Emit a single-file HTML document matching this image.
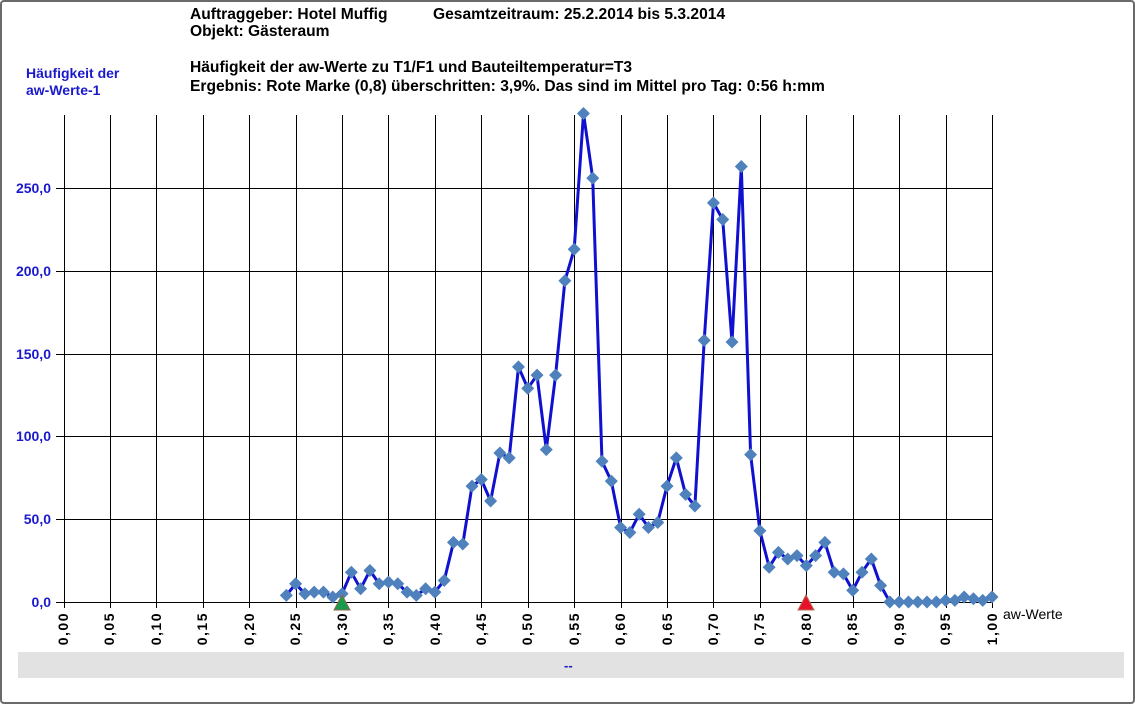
<!DOCTYPE html>
<html><head><meta charset="utf-8"><style>
body{margin:0;background:#fff;}
#f{position:absolute;left:0;top:0;width:1131px;height:700px;border:2px solid #6a6a6a;border-radius:4px;background:#fff;overflow:hidden;font-family:"Liberation Sans",Arial,sans-serif;}
.t{position:absolute;font-weight:bold;font-size:15.6px;color:#000;white-space:nowrap;}
.b{position:absolute;font-weight:bold;font-size:14px;color:#1a1acc;white-space:nowrap;}
</style></head><body>
<div id="f">
<div class="t" style="left:188px;top:4px">Auftraggeber: Hotel Muffig</div>
<div class="t" style="left:431px;top:4px">Gesamtzeitraum: 25.2.2014 bis 5.3.2014</div>
<div class="t" style="left:188px;top:21px">Objekt: Gästeraum</div>
<div class="t" style="left:188px;top:57px">Häufigkeit der aw-Werte zu T1/F1 und Bauteiltemperatur=T3</div>
<div class="t" style="left:188px;top:76px">Ergebnis: Rote Marke (0,8) überschritten: 3,9%. Das sind im Mittel pro Tag: 0:56 h:mm</div>
<div class="b" style="left:24px;top:63px">Häufigkeit der</div>
<div class="b" style="left:24px;top:80px">aw-Werte-1</div>
<div style="position:absolute;left:16px;top:650px;width:1106px;height:26px;background:#e2e2e2"></div>
<div class="b" style="left:562px;top:656px;font-size:13px">--</div>
</div>
<svg id="s" width="1135" height="704" style="position:absolute;left:0;top:0" font-family="Liberation Sans, Arial, sans-serif">
<g id="grid" stroke="#000" stroke-width="1"></g>
<g font-size="14" font-weight="bold" fill="#1a1acc" text-anchor="end">
<text x="51" y="607">0,0</text><text x="51" y="524">50,0</text><text x="51" y="441">100,0</text>
<text x="51" y="359">150,0</text><text x="51" y="276">200,0</text><text x="51" y="193">250,0</text>
</g>
<g id="xl" font-size="14" font-weight="bold" fill="#000" letter-spacing="1.5">
<text transform="translate(68,612) rotate(-90)" text-anchor="end">0,00</text>
<text transform="translate(114,612) rotate(-90)" text-anchor="end">0,05</text>
<text transform="translate(161,612) rotate(-90)" text-anchor="end">0,10</text>
<text transform="translate(207,612) rotate(-90)" text-anchor="end">0,15</text>
<text transform="translate(254,612) rotate(-90)" text-anchor="end">0,20</text>
<text transform="translate(300,612) rotate(-90)" text-anchor="end">0,25</text>
<text transform="translate(347,612) rotate(-90)" text-anchor="end">0,30</text>
<text transform="translate(393,612) rotate(-90)" text-anchor="end">0,35</text>
<text transform="translate(440,612) rotate(-90)" text-anchor="end">0,40</text>
<text transform="translate(486,612) rotate(-90)" text-anchor="end">0,45</text>
<text transform="translate(532,612) rotate(-90)" text-anchor="end">0,50</text>
<text transform="translate(579,612) rotate(-90)" text-anchor="end">0,55</text>
<text transform="translate(625,612) rotate(-90)" text-anchor="end">0,60</text>
<text transform="translate(672,612) rotate(-90)" text-anchor="end">0,65</text>
<text transform="translate(718,612) rotate(-90)" text-anchor="end">0,70</text>
<text transform="translate(764,612) rotate(-90)" text-anchor="end">0,75</text>
<text transform="translate(811,612) rotate(-90)" text-anchor="end">0,80</text>
<text transform="translate(857,612) rotate(-90)" text-anchor="end">0,85</text>
<text transform="translate(904,612) rotate(-90)" text-anchor="end">0,90</text>
<text transform="translate(950,612) rotate(-90)" text-anchor="end">0,95</text>
<text transform="translate(997,612) rotate(-90)" text-anchor="end">1,00</text>
</g>
<text x="1003" y="619" font-size="14" fill="#000">aw-Werte</text>
<polyline id="ln" fill="none" stroke="#1010d0" stroke-width="3" stroke-linejoin="round"></polyline>
<g id="mk" fill="#4f81bd"></g>
<polygon points="342,595 334,610 350,610" fill="#1a9a4a" stroke="#8a6a4a" stroke-width="1"/>
<polygon points="806,595 798,610 814,610" fill="#e8102a" stroke="#b07050" stroke-width="1"/>
</svg>
<script>
var X0=63.5,DX=9.285,Y0=602,K=1.656;
var g=document.getElementById('grid'),h='';
for(var i=0;i<=20;i++){var x=Math.round(X0+i*5*DX)+0.5;h+='<line x1="'+x+'" y1="115" x2="'+x+'" y2="608"/>';}
for(var j=0;j<=5;j++){var y=Math.round(Y0-j*50*K)+0.5;h+='<line x1="56" y1="'+y+'" x2="992" y2="'+y+'"/>';}
g.innerHTML=h;
var v=[4,11,5,6,6,3,5,18,8,19,11,12,11,6,4,8,6,13,36,35,70,74,61,90,87,142,129,137,92,137,194,213,295,256,85,73,45,42,53,45,48,70,87,65,58,158,241,231,157,263,89,43,21,30,26,28,22,28,36,18,17,7,18,26,10,0,0,0,0,0,0,1,1,3,2,1,3];
var p=[],m='';
for(var i=0;i<v.length;i++){var x=X0+(24+i)*DX,y=Y0-v[i]*K;p.push(x.toFixed(1)+','+y.toFixed(1));
m+='<polygon points="'+x+','+(y-6.5)+' '+(x+6.5)+','+y+' '+x+','+(y+6.5)+' '+(x-6.5)+','+y+'"/>';}
document.getElementById('ln').setAttribute('points',p.join(' '));
document.getElementById('mk').innerHTML=m;
</script>
</body></html>
